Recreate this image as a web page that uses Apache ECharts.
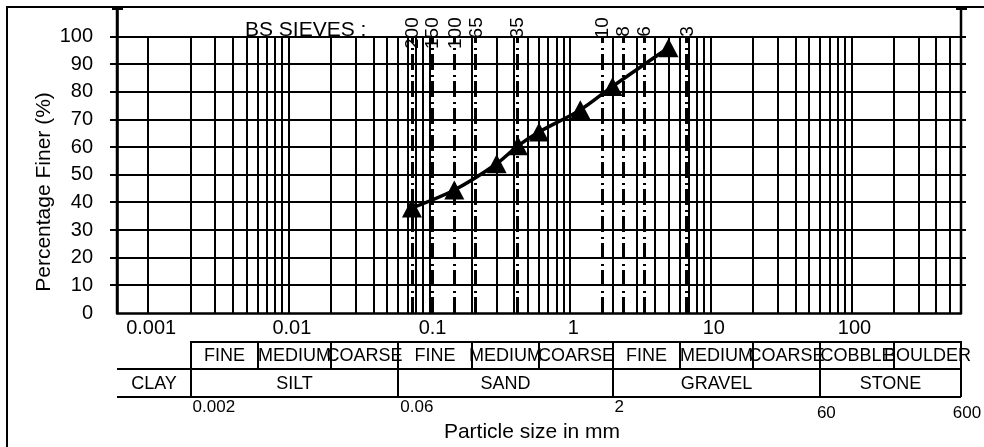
<!DOCTYPE html>
<html>
<head>
<meta charset="utf-8">
<script src="https://cdn.jsdelivr.net/npm/echarts@6/dist/echarts.min.js"></script>
<style>
  html, body { margin: 0; padding: 0; background: #fff; }
  #chart { width: 984px; height: 447px; }
</style>
</head>
<body>
<div id="chart"></div>
<script>
const FONT = '"Liberation Sans", Arial, Helvetica, sans-serif';

// grading curve
const sizeMm = [0.075, 0.15, 0.3, 0.425, 0.6, 1.18, 2, 5];
const percentFiner = [38, 44.5, 54, 60.5, 65.5, 73.5, 82, 96];

// BS sieve lines
const sieveSizes = [0.075, 0.104, 0.15, 0.212, 0.42, 1.68, 2.36, 3.35, 6.7];
const sieveNames = ["200", "150", "100", "65", "35", "10", "8", "6", "3"];

// axes
const xMin = 0.0006;
const xMax = 600;
const decadeTicks = [0.001, 0.01, 0.1, 1, 10, 100];
const percentTicks = [10, 20, 30, 40, 50, 60, 70, 80, 90, 100];

// soil classification table
const subBounds = [0.002, 0.006, 0.02, 0.06, 0.2, 0.6, 2, 6, 20, 60, 200, 600];
const subNames = ["FINE", "MEDIUM", "COARSE", "FINE", "MEDIUM", "COARSE",
  "FINE", "MEDIUM", "COARSE", "COBBLE", "BOULDER"];
const mainBounds = [0.0006, 0.002, 0.06, 2, 60, 600];
const mainNames = ["CLAY", "SILT", "SAND", "GRAVEL", "STONE"];
const boundLabels = ["0.002", "0.06", "2", "60", "600"];

// minor gridlines 1..9 per decade
const gridValues = [];
decadeTicks.forEach(function (d) {
  for (let m = 1; m <= 9; m++) {
    if (m * d <= xMax) gridValues.push(+(m * d).toPrecision(3));
  }
});
gridValues.push(xMax);

const r = Math.round;

function txt(x, y, text, size, align, valign, extra) {
  const el = {
    type: "text",
    x: x,
    y: y,
    style: {
      text: text,
      fill: "#000",
      font: size + "px " + FONT,
      align: align, textAlign: align,
      verticalAlign: valign, textVerticalAlign: valign
    }
  };
  if (extra) Object.assign(el, extra);
  return el;
}

function line(x1, y1, x2, y2, w, dash) {
  const st = { stroke: "#000", lineWidth: w };
  if (dash) st.lineDash = dash;
  return { type: "line", shape: { x1: x1, y1: y1, x2: x2, y2: y2 }, style: st };
}

function renderVGrid(params, api) {
  const a = api.coord([api.value(0), 0]);
  const b = api.coord([api.value(0), 100]);
  return line(r(a[0]), r(a[1]), r(b[0]), r(b[1]), 2);
}

function renderHGrid(params, api) {
  const a = api.coord([xMin, api.value(1)]);
  const b = api.coord([xMax, api.value(1)]);
  return line(r(a[0]) - 7, r(a[1]), r(b[0]) + 5, r(b[1]), 2);
}

function renderCaps(params, api) {
  const a = api.coord([api.value(0), 0]);
  const b = api.coord([api.value(0), 110]);
  return {
    type: "group",
    children: [
      line(a[0], a[1], b[0], b[1], 2.5),
      line(b[0] - 5, r(b[1]), b[0] + 6, r(b[1]), 2)
    ]
  };
}

function renderSieve(params, api) {
  const i = params.dataIndex;
  const a = api.coord([api.value(0), 0]);
  const b = api.coord([api.value(0), 100]);
  const name = sieveNames[i];
  const long = name.length > 1;
  const anchor = api.coord([api.value(0), long ? 107 : 100]);
  return {
    type: "group",
    children: [
      line(r(a[0]) + 0.5, a[1], r(b[0]) + 0.5, b[1], 3, [16, 4, 2, 5]),
      txt(anchor[0] + 1, anchor[1], name, 19, long ? "right" : "left", "middle",
        { rotation: Math.PI / 2 })
    ]
  };
}

function renderDecade(params, api) {
  const p = api.coord([api.value(0), 0]);
  return txt(p[0] + 3, p[1] + 5, String(decadeTicks[params.dataIndex]), 20, "center", "top");
}

function renderSub(params, api) {
  const i = params.dataIndex;
  const a = api.coord([subBounds[i], 0]);
  const x1 = r(a[0]);
  const x2 = r(api.coord([subBounds[i + 1], 0])[0]);
  const top = r(a[1]) + 29;
  const bot = r(a[1]) + 56;
  return {
    type: "group",
    children: [
      { type: "rect", shape: { x: x1, y: top, width: x2 - x1, height: bot - top },
        style: { fill: "none", stroke: "#000", lineWidth: 2 } },
      txt((x1 + x2) / 2, (top + bot) / 2 + 1, subNames[i], 18, "center", "middle")
    ]
  };
}

function renderMain(params, api) {
  const i = params.dataIndex;
  const a = api.coord([mainBounds[i], 0]);
  const x1 = r(a[0]);
  const x2 = r(api.coord([mainBounds[i + 1], 0])[0]);
  const top = r(a[1]) + 56;
  const bot = r(a[1]) + 84;
  return {
    type: "group",
    children: [
      line(x1, top, x2, top, 2),
      line(x1, bot, x2, bot, 2),
      line(x2, top, x2, bot, 2),
      txt((x1 + x2) / 2, (top + bot) / 2 + 1, mainNames[i], 18, "center", "middle")
    ]
  };
}

function renderBound(params, api) {
  const i = params.dataIndex;
  const p = api.coord([mainBounds[i + 1], 0]);
  if (i < 3) return txt(p[0] + 2, p[1] + 94, boundLabels[i], 17, "left", "middle");
  return txt(p[0] + 6, p[1] + 100, boundLabels[i], 17, "center", "middle");
}

const chart = echarts.init(document.getElementById("chart"), null, { renderer: "canvas" });

const option = {
  animation: false,
  backgroundColor: "#fff",
  grid: { left: 117, top: 9, width: 844, height: 304, containLabel: false, outerBoundsMode: "none" },
  xAxis: {
    type: "log",
    logBase: 10,
    min: xMin,
    max: xMax,
    name: "Particle size in mm",
    nameLocation: "middle",
    nameGap: 109,
    nameTextStyle: { color: "#000", fontSize: 21, fontFamily: FONT, padding: [0, 14, 0, 0] },
    axisLine: { show: true, lineStyle: { color: "#000", width: 2.5 } },
    axisTick: { show: false },
    axisLabel: { show: false },
    splitLine: { show: false }
  },
  yAxis: {
    type: "value",
    min: 0,
    max: 110,
    interval: 10,
    axisLine: { show: true, lineStyle: { color: "#000", width: 2.5 } },
    axisTick: { show: false },
    splitLine: { show: false },
    axisLabel: {
      color: "#000", fontSize: 20, fontFamily: FONT, margin: 24,
      formatter: function (v) { return v > 100 ? "" : String(v); }
    }
  },
  graphic: [
    { type: "rect", silent: true, shape: { x: 7, y: 7, width: 1100, height: 600 },
      style: { fill: "none", stroke: "#000", lineWidth: 2 } },
    { type: "text", x: 245, y: 30, silent: true,
      style: { text: "BS SIEVES :", fill: "#000", font: "21px " + FONT,
        align: "left", textAlign: "left", verticalAlign: "middle", textVerticalAlign: "middle" } },
    { type: "text", x: 44, y: 192, rotation: Math.PI / 2, silent: true,
      style: { text: "Percentage Finer (%)", fill: "#000", font: "21px " + FONT,
        align: "center", textAlign: "center", verticalAlign: "middle", textVerticalAlign: "middle" } }
  ],
  series: [
    { type: "custom", silent: true, z: 1, renderItem: renderVGrid,
      data: gridValues.map(function (v) { return [v, 0]; }) },
    { type: "custom", silent: true, z: 1, renderItem: renderHGrid,
      data: percentTicks.map(function (p) { return [xMin, p]; }) },
    { type: "custom", silent: true, z: 2, renderItem: renderCaps,
      data: [[xMin, 0], [xMax, 0]] },
    { type: "custom", silent: true, z: 3, renderItem: renderSieve,
      data: sieveSizes.map(function (s) { return [s, 0]; }) },
    { type: "custom", silent: true, z: 3, renderItem: renderDecade,
      data: decadeTicks.map(function (v) { return [v, 0]; }) },
    { type: "custom", silent: true, z: 3, renderItem: renderSub,
      data: subNames.map(function (n, i) { return [subBounds[i], 0]; }) },
    { type: "custom", silent: true, z: 3, renderItem: renderMain,
      data: mainNames.map(function (n, i) { return [mainBounds[i], 0]; }) },
    { type: "custom", silent: true, z: 3, renderItem: renderBound,
      data: boundLabels.map(function (n, i) { return [mainBounds[i + 1], 0]; }) },
    {
      type: "line",
      z: 10,
      data: sizeMm.map(function (s, i) { return [s, percentFiner[i]]; }),
      smooth: 0.3,
      symbol: "triangle",
      symbolSize: [20, 19],
      showAllSymbol: true,
      lineStyle: { color: "#000", width: 3.5 },
      itemStyle: { color: "#000", borderWidth: 0 }
    }
  ]
};

chart.setOption(option);
</script>
</body>
</html>
